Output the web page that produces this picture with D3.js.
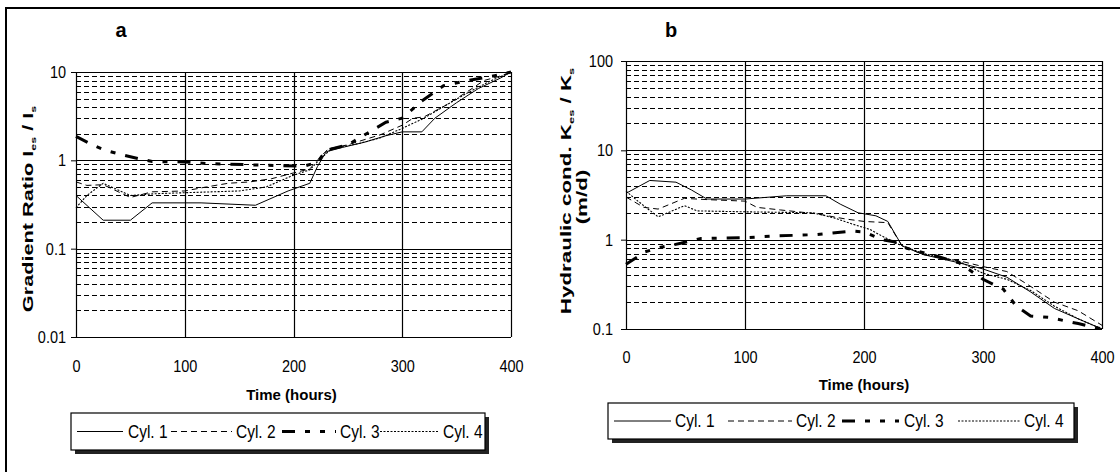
<!DOCTYPE html>
<html>
<head>
<style>
    body { margin: 0; background: #fff; }
    svg text { font-family: "Liberation Sans", Arial, sans-serif; fill: #000; }
    .tick text, .legend text { font-family: "Liberation Sans Narrow", "Arial Narrow", "Liberation Sans", sans-serif; }
</style>
<script src="https://d3js.org/d3.v7.min.js"></script>
</head>
<body>
<svg id="chart" width="1120" height="472"></svg>
<script>
// ---- data ----
var hourTicks = [0, 100, 200, 300, 400];
var seriesNames = ["Cyl. 1", "Cyl. 2", "Cyl. 3", "Cyl. 4"];

// panel a: gradient ratio
var aCyl1Hours = [0, 25, 50, 70, 115, 165, 195, 215, 222, 230, 245, 265, 285, 300, 318, 330, 350, 370, 390, 400];
var aCyl1Ratio = [0.40, 0.21, 0.21, 0.33, 0.33, 0.31, 0.45, 0.55, 0.85, 1.25, 1.4, 1.6, 1.9, 2.1, 2.1, 3.0, 4.5, 6.5, 8.5, 10];
var aCyl2Hours = [0, 10, 25, 50, 70, 100, 120, 140, 160, 180, 200, 215, 225, 232, 250, 280, 300, 310, 320, 340, 360, 375, 390, 400];
var aCyl2Ratio = [0.57, 0.52, 0.53, 0.38, 0.44, 0.45, 0.50, 0.55, 0.57, 0.62, 0.72, 0.80, 1.1, 1.35, 1.5, 1.95, 2.5, 3.0, 3.1, 4.2, 6.0, 8.0, 9.0, 10];
var aCyl3Hours = [0, 15, 27, 43, 58, 70, 100, 120, 160, 190, 210, 222, 230, 250, 270, 285, 300, 318, 338, 360, 380, 400];
var aCyl3Ratio = [1.87, 1.5, 1.3, 1.15, 1.04, 0.97, 0.96, 0.92, 0.89, 0.87, 0.86, 0.95, 1.3, 1.5, 2.1, 2.7, 3.0, 4.7, 7.0, 8.0, 8.8, 10];
var aCyl4Hours = [0, 10, 25, 50, 75, 100, 150, 175, 200, 215, 225, 235, 260, 280, 300, 320, 340, 360, 380, 400];
var aCyl4Ratio = [0.29, 0.40, 0.55, 0.40, 0.42, 0.43, 0.45, 0.50, 0.68, 0.78, 1.05, 1.35, 1.55, 1.8, 2.3, 3.0, 4.2, 5.8, 7.8, 10];

// panel b: hydraulic conductivity
var bCyl1Hours = [0, 20, 42, 55, 68, 100, 135, 168, 180, 195, 210, 220, 232, 250, 280, 300, 320, 340, 360, 380, 400];
var bCyl1Cond = [3.3, 4.6, 4.4, 3.6, 2.85, 2.85, 3.1, 3.1, 2.5, 2.0, 1.85, 1.6, 0.85, 0.68, 0.55, 0.47, 0.38, 0.26, 0.17, 0.13, 0.1];
var bCyl2Hours = [0, 15, 27, 49, 70, 100, 110, 130, 160, 185, 200, 220, 232, 250, 280, 300, 320, 340, 360, 380, 400];
var bCyl2Cond = [3.0, 2.3, 2.2, 2.9, 2.8, 2.7, 2.3, 2.15, 1.95, 1.7, 1.6, 1.55, 0.85, 0.68, 0.58, 0.5, 0.44, 0.3, 0.2, 0.16, 0.11];
var bCyl3Hours = [0, 16, 27, 46, 63, 100, 125, 160, 190, 200, 215, 225, 236, 260, 280, 300, 317, 328, 340, 355, 380, 400];
var bCyl3Cond = [0.53, 0.73, 0.81, 0.91, 1.03, 1.05, 1.1, 1.14, 1.25, 1.22, 1.0, 0.95, 0.8, 0.66, 0.55, 0.36, 0.28, 0.18, 0.14, 0.135, 0.115, 0.1];
var bCyl4Hours = [0, 10, 27, 49, 60, 100, 157, 175, 190, 205, 215, 230, 250, 280, 300, 320, 340, 360, 380, 400];
var bCyl4Cond = [3.5, 2.7, 1.8, 2.4, 2.1, 2.05, 2.0, 1.75, 1.5, 1.3, 1.1, 0.88, 0.7, 0.57, 0.42, 0.36, 0.27, 0.18, 0.13, 0.1];

// line look per cylinder
var dashes = [null, "6,4", "13,10,5,10,5,10", "2,1.5"];
var widths = [1, 1, 3, 1.1];

var svg = d3.select("#chart");

// outer frame
svg.append("rect").attr("x", 6).attr("y", 8).attr("width", 1130).attr("height", 480)
    .attr("fill", "none").attr("stroke", "#000").attr("stroke-width", 2);

function zip(hours, vals) {
    return hours.map(function(h, i) { return [h, vals[i]]; });
}

function drawPanel(p) {
    var g = svg.append("g");
    var x = d3.scaleLinear().domain([0, 400]).range([p.left, p.right]);
    var y = d3.scaleLog().domain(p.yDomain).range([p.bottom, p.top]);

    var all = y.ticks();
    var major = all.filter(function(v) { return Math.abs(Math.log10(v) - Math.round(Math.log10(v))) < 1e-6; });
    var minor = all.filter(function(v) { return major.indexOf(v) < 0; });

    g.selectAll(".minor").data(minor).enter().append("line")
        .attr("x1", p.left).attr("x2", p.right)
        .attr("y1", function(d) { return Math.round(y(d)) + 0.5; })
        .attr("y2", function(d) { return Math.round(y(d)) + 0.5; })
        .attr("stroke", "#000").attr("stroke-width", 1.2).attr("stroke-dasharray", "5,3");

    g.selectAll(".major").data(major).enter().append("line")
        .attr("x1", p.left).attr("x2", p.right)
        .attr("y1", function(d) { return Math.round(y(d)) + 0.5; })
        .attr("y2", function(d) { return Math.round(y(d)) + 0.5; })
        .attr("stroke", "#000").attr("stroke-width", 1.2);

    g.selectAll(".vgrid").data(hourTicks).enter().append("line")
        .attr("x1", function(d) { return Math.round(x(d)) + 0.5; })
        .attr("x2", function(d) { return Math.round(x(d)) + 0.5; })
        .attr("y1", p.top).attr("y2", p.bottom)
        .attr("stroke", "#000").attr("stroke-width", 1.2);

    // axes (labels a bit taller than wide, like the scan)
    var ya = g.append("g").attr("transform", "translate(" + p.left + ",0)")
        .call(d3.axisLeft(y).tickValues(major).tickSize(5).tickPadding(p.yPad)
            .tickFormat(function(d) { return String(d); }));
    ya.select(".domain").remove();
    ya.selectAll("text").style("font-size", "14.5px").attr("transform", "scale(1,1.2)");

    var xa = g.append("g").attr("transform", "translate(0," + p.bottom + ")")
        .call(d3.axisBottom(x).tickValues(hourTicks).tickSize(0).tickPadding(p.xPad / 1.2));
    xa.select(".domain").remove();
    xa.selectAll("text").style("font-size", "14.5px").attr("transform", "scale(1,1.2)");

    // data lines
    var line = d3.line().x(function(d) { return x(d[0]); }).y(function(d) { return y(d[1]); });
    p.series.forEach(function(s, i) {
        g.append("path").datum(s)
            .attr("d", line).attr("fill", "none").attr("stroke", "#000")
            .attr("stroke-width", widths[i])
            .attr("stroke-dasharray", dashes[i]);
    });

    // axis titles
    g.append("text").attr("x", (p.left + p.right) / 2 - p.timeShift).attr("y", p.timeY)
        .attr("text-anchor", "middle").style("font-size", "15px").style("font-weight", "bold")
        .text("Time (hours)");

    g.append("text").attr("x", p.letterX).attr("y", 37).attr("text-anchor", "middle")
        .style("font-size", "20px").style("font-weight", "bold").text(p.letter);

    var t = g.append("text").attr("text-anchor", "middle")
        .attr("transform", "translate(" + p.titleX + "," + p.titleY + ") scale(1," + p.titleStretch + ") rotate(-90)")
        .style("font-size", "14px").style("font-weight", "bold");
    t.append("tspan").text(p.title[0]);
    t.append("tspan").attr("dy", 3).style("font-size", "8px").text(p.title[1]);
    t.append("tspan").attr("dy", -3).text(p.title[2]);
    t.append("tspan").attr("dy", 3).style("font-size", "8px").text(p.title[3]);
    if (p.unit) {
        g.append("text").attr("text-anchor", "middle")
            .attr("transform", "translate(" + p.unitX + "," + p.titleY2 + ") scale(1," + p.titleStretch + ") rotate(-90)")
            .style("font-size", "14px").style("font-weight", "bold").text(p.unit);
    }

    // legend
    var L = p.legend;
    var lg = g.append("g").attr("class", "legend");
    lg.append("rect").attr("x", L.x0 + 4).attr("y", L.y0 + 4)
        .attr("width", L.x1 - L.x0).attr("height", L.y1 - L.y0).attr("fill", "#222");
    lg.append("rect").attr("x", L.x0).attr("y", L.y0)
        .attr("width", L.x1 - L.x0).attr("height", L.y1 - L.y0)
        .attr("fill", "#fff").attr("stroke", "#000").attr("stroke-width", 1.2);
    seriesNames.forEach(function(name, i) {
        var cy = (L.y0 + L.y1) / 2;
        lg.append("line").attr("x1", L.lines[i][0]).attr("x2", L.lines[i][1])
            .attr("y1", cy).attr("y2", cy).attr("stroke", "#000")
            .attr("stroke-width", widths[i]).attr("stroke-dasharray", dashes[i]);
        lg.append("text").attr("transform", "translate(" + L.texts[i] + "," + cy + ") scale(1,1.15)")
            .attr("dy", "0.36em").style("font-size", "15.5px").text(name);
    });
}

drawPanel({
    left: 76, right: 511, top: 72, bottom: 337, yDomain: [0.01, 10],
    yPad: 5, xPad: 23, timeY: 400, timeShift: 2,
    letter: "a", letterX: 121,
    title: ["Gradient Ratio I", "es", " / I", "s"], titleX: 33, titleY: 209, titleStretch: 1.55,
    series: [zip(aCyl1Hours, aCyl1Ratio), zip(aCyl2Hours, aCyl2Ratio), zip(aCyl3Hours, aCyl3Ratio), zip(aCyl4Hours, aCyl4Ratio)],
    legend: { x0: 71, x1: 485, y0: 413, y1: 450,
        lines: [[77, 123], [171, 232], [282, 336], [380, 439]], texts: [128, 236, 340, 443] }
});

drawPanel({
    left: 626, right: 1102, top: 61, bottom: 329, yDomain: [0.1, 100],
    yPad: 8, xPad: 22, timeY: 390, timeShift: 0,
    letter: "b", letterX: 671,
    title: ["Hydraulic cond. K", "es", " / K", "s"], titleX: 571, titleY: 191, titleStretch: 1.6,
    unit: "(m/d)", unitX: 587, titleY2: 197,
    series: [zip(bCyl1Hours, bCyl1Cond), zip(bCyl2Hours, bCyl2Cond), zip(bCyl3Hours, bCyl3Cond), zip(bCyl4Hours, bCyl4Cond)],
    legend: { x0: 608, x1: 1074, y0: 403, y1: 439,
        lines: [[614, 671], [728, 792], [842, 899], [958, 1021]], texts: [675, 796, 904, 1024] }
});
</script>
</body>
</html>
